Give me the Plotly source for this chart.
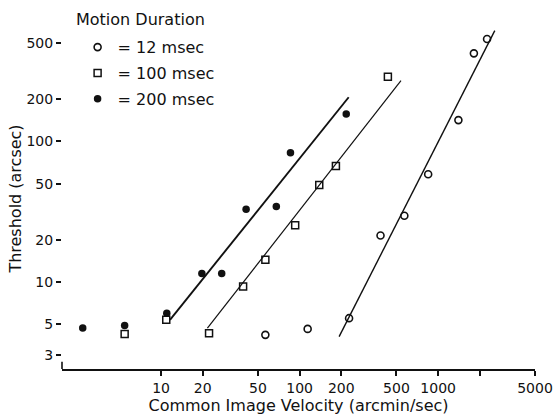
import math
import plotly.graph_objects as go

# ---- data (velocity in arcmin/sec, threshold in arcsec) ----
v_12 = [56.6, 114.3, 227.5, 383.7, 570, 847, 1400, 1811, 2254]
t_12 = [4.2, 4.63, 5.52, 21.4, 29.6, 58.4, 142, 424, 537]

v_100 = [5.46, 10.9, 22.2, 39.1, 56.6, 92.9, 138.6, 182.8, 433.6]
t_100 = [4.25, 5.37, 4.31, 9.26, 14.4, 25.3, 49.0, 66.9, 289]

v_200 = [2.72, 5.46, 11.0, 19.7, 27.4, 41.1, 67.9, 85.9, 217]
t_200 = [4.69, 4.89, 5.99, 11.5, 11.5, 32.9, 34.4, 83.2, 157]

# fitted regression lines (end points)
fit_12_v = [192.8, 2563]
fit_12_t = [4.08, 615]
fit_100_v = [21.6, 539]
fit_100_t = [4.69, 271]
fit_200_v = [11.6, 226]
fit_200_t = [5.37, 206.5]

x_ticks = [10, 20, 50, 100, 200, 500, 1000, 2000, 5000]
x_ticktext = ["10", "20", "50", "100", "200", "500", "1000", "", "5000"]
y_ticks = [3, 5, 10, 20, 50, 100, 200, 500]
y_ticktext = ["3", "5", "10", "20", "50", "100", "200", "500"]

legend_names = ["= 12 msec", "= 100 msec", "= 200 msec"]

FONT = "DejaVu Sans, Liberation Sans, Arial, sans-serif"
INK = "#111111"
FS_TICK = 14
FS_TEXT = 16

fig = go.Figure()

# fit lines (not in legend)
fig.add_trace(go.Scatter(x=fit_12_v, y=fit_12_t, mode="lines",
                         line=dict(color=INK, width=1.4), showlegend=False, hoverinfo="skip"))
fig.add_trace(go.Scatter(x=fit_100_v, y=fit_100_t, mode="lines",
                         line=dict(color=INK, width=1.2), showlegend=False, hoverinfo="skip"))
fig.add_trace(go.Scatter(x=fit_200_v, y=fit_200_t, mode="lines",
                         line=dict(color=INK, width=1.9), showlegend=False, hoverinfo="skip"))

# data points
fig.add_trace(go.Scatter(x=v_12, y=t_12, mode="markers", name=legend_names[0],
                         legendgroup="a",
                         marker=dict(symbol="circle-open", size=7, color=INK,
                                     line=dict(width=1.6, color=INK))))
fig.add_trace(go.Scatter(x=v_100, y=t_100, mode="markers", name=legend_names[1],
                         legendgroup="b",
                         marker=dict(symbol="square-open", size=7, color=INK,
                                     line=dict(width=1.5, color=INK))))
fig.add_trace(go.Scatter(x=v_200, y=t_200, mode="markers", name=legend_names[2],
                         legendgroup="c",
                         marker=dict(symbol="circle", size=7.5, color=INK)))

x_range = [0.285, math.log10(max(x_ticks))]
y_range = [0.38, 2.808]

fig.update_layout(
    width=554, height=416,
    margin=dict(l=62, r=19, t=28, b=47),
    paper_bgcolor="white", plot_bgcolor="white",
    font=dict(family=FONT, size=FS_TEXT, color=INK),
    showlegend=True,
    legend=dict(x=0.033, y=0.9935, xanchor="left", yanchor="top",
                font=dict(size=FS_TEXT, color=INK), bgcolor="rgba(0,0,0,0)",
                tracegroupgap=2, itemwidth=30),
    xaxis=dict(type="log", range=x_range, tickvals=x_ticks, ticktext=x_ticktext,
               ticks="outside", ticklen=5, tickwidth=1.5, tickcolor=INK,
               showline=True, linewidth=1.6, linecolor=INK,
               showgrid=False, zeroline=False, automargin=False,
               ticklabeloverflow="allow",
               tickfont=dict(size=FS_TICK, color=INK),
               title=dict(text="Common Image Velocity (arcmin/sec)", standoff=1,
                          font=dict(size=FS_TEXT, color=INK))),
    yaxis=dict(type="log", range=y_range, tickvals=y_ticks, ticktext=y_ticktext,
               ticks="outside", ticklen=5, tickwidth=1.5, tickcolor=INK,
               showline=False, showgrid=False, zeroline=False, automargin=False,
               ticklabeloverflow="allow",
               tickfont=dict(size=FS_TICK, color=INK),
               title=dict(text="Threshold (arcsec)", standoff=0,
                          font=dict(size=FS_TEXT, color=INK))),
    annotations=[dict(text="Motion Duration", xref="paper", yref="paper",
                      x=0.166, y=1.026, xanchor="center", yanchor="middle",
                      showarrow=False, font=dict(size=FS_TEXT, color=INK))],
    shapes=[dict(type="line", xref="paper", yref="y",
                 x0=0, x1=0, y0=y_range[0], y1=math.log10(max(y_ticks)),
                 line=dict(color=INK, width=1.6))],
)

fig.write_html("out.html", config={"displayModeBar": False},
               post_script="document.body.style.margin='0px';")
